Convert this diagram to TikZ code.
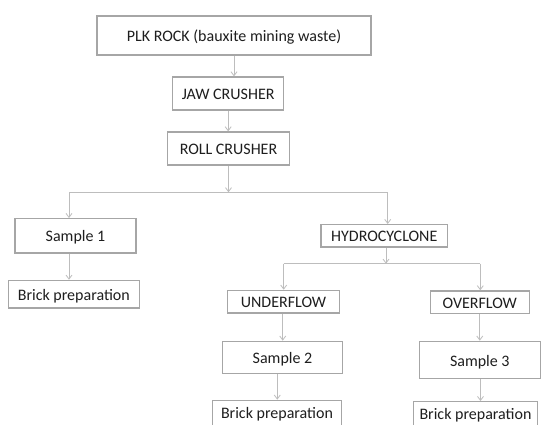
\documentclass[tikz,border=0pt]{standalone}
\usepackage{fontspec}
\setmainfont{Carlito}
\usetikzlibrary{arrows.meta,calc}
\definecolor{boxline}{HTML}{A6A6A6}
\definecolor{conline}{HTML}{BDBDBD}
\definecolor{txt}{HTML}{1E1E1E}
\tikzset{
  procbox/.style={draw=boxline, line width=1.3pt, fill=white, inner sep=0pt,
    text=txt, font=\fontsize{16}{18}\selectfont, text height=12.3pt, text depth=0pt,
    align=center},
  conn/.style={draw=conline, line width=1pt},
  arr/.style={conn, -{Straight Barb[length=4pt,width=6pt,line width=0.8pt]}},
}
\begin{document}
\begin{tikzpicture}[x=1pt,y=-1pt]
\useasboundingbox (0,0) rectangle (542,424);
\clip (0,0) rectangle (542,424);
\fill[white] (0,0) rectangle (542,424);
\node[procbox, minimum width=274pt, minimum height=39pt] (plk) at (234,35.5) {PLK ROCK (bauxite mining waste)};
\node[procbox, minimum width=111pt, minimum height=33pt] (jaw) at (228.2,93.5) {JAW CRUSHER};
\node[procbox, minimum width=121.6pt, minimum height=33pt] (roll) at (228.5,148.5) {ROLL CRUSHER};
\node[procbox, minimum width=121pt, minimum height=34.3pt] (s1) at (75.5,235.8) {Sample 1};
\node[procbox, minimum width=131pt, minimum height=27.7pt] (b1) at (73.8,294.2) {Brick preparation};
\node[procbox, minimum width=126.7pt, minimum height=22.3pt] (hyd) at (384.3,235.8) {HYDROCYCLONE};
\node[procbox, minimum width=111.6pt, minimum height=22.7pt] (under) at (283.5,301.7) {UNDERFLOW};
\node[procbox, minimum width=99pt, minimum height=22.7pt] (over) at (479.8,302.3) {OVERFLOW};
\node[procbox, minimum width=120.4pt, minimum height=32.4pt] (s2) at (282.5,357.5) {Sample 2};
\node[procbox, minimum width=121pt, minimum height=37.4pt] (s3) at (479.8,360) {Sample 3};
\node[procbox, minimum width=129.4pt, minimum height=28pt, text height=7.6pt] (b2) at (277,414.3) {Brick preparation};
\node[procbox, minimum width=124.4pt, minimum height=28pt, text height=7.6pt] (b3) at (475.5,415.7) {Brick preparation};
\coordinate (jL) at (69,192.3);
\coordinate (jR) at (387.7,192.3);
\coordinate (kL) at (283.7,263.7);
\coordinate (kR) at (480.3,263.7);
% main chain
\draw[arr] (plk.south) -- (plk.south |- jaw.north);
\draw[arr] (jaw.south) -- (jaw.south |- roll.north);
\draw[arr] (roll.south) -- (roll.south |- jL);
\draw[conn] (jL) -- (jR);
\draw[arr] (jL) -- (jL |- s1.north);
\draw[arr] (jL |- s1.south) -- (jL |- b1.north);
\draw[arr] (jR) -- (jR |- hyd.north);
% hydrocyclone split
\draw[arr] ($(hyd.south)+(1.7,0)$) coordinate (hs) -- (hs |- kL);
\draw[conn] (kL) -- (kR);
\draw[arr] (kL) -- (kL |- under.north);
\draw[arr] (kR) -- (kR |- over.north);
\draw[arr] ($(under.south)+(-0.8,0)$) coordinate (us) -- (us |- s2.north);
\draw[arr] (over.south) -- (over.south |- s3.north);
\draw[arr] ($(s2.south)+(-5.2,0)$) coordinate (s2s) -- (s2s |- b2.north);
\draw[arr] ($(s3.south)+(0.7,0)$) coordinate (s3s) -- (s3s |- b3.north);
\end{tikzpicture}
\end{document}
